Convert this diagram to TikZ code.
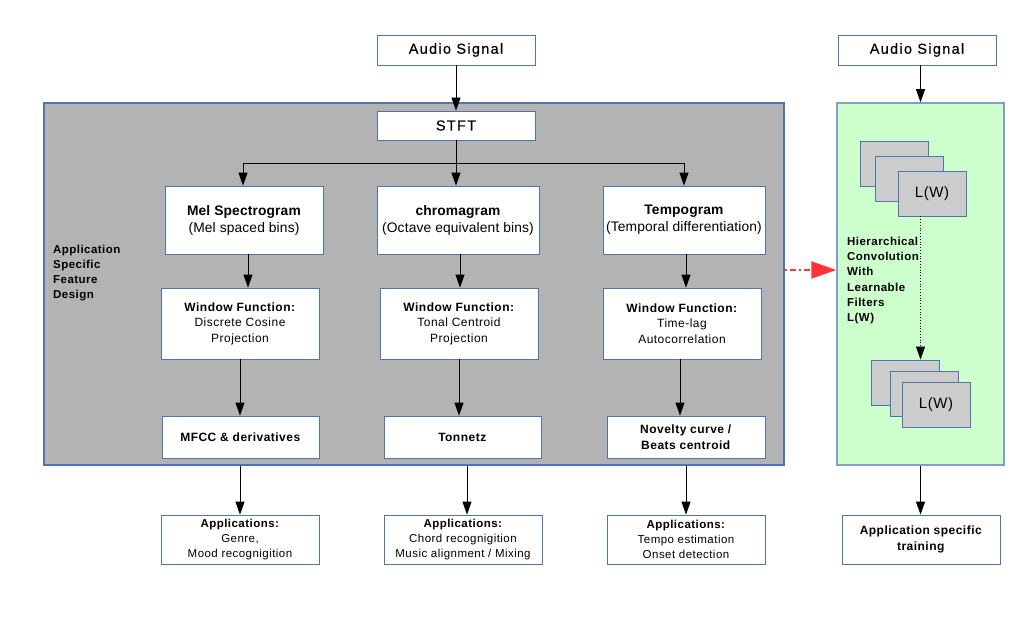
\documentclass[tikz,border=0pt]{standalone}
\usepackage{fontspec}
\setmainfont{Liberation Sans}[LetterSpace=4]
\newfontfamily\tightfont{Liberation Sans}[LetterSpace=1]
\newfontfamily\widefont{Liberation Sans}[LetterSpace=9,FakeBold=0.5]
\usetikzlibrary{arrows.meta}
\definecolor{bordc}{RGB}{79,117,176}
\definecolor{grayfill}{RGB}{179,179,179}
\definecolor{greenfill}{RGB}{204,255,204}
\definecolor{stackfill}{RGB}{204,204,204}
\definecolor{redarr}{RGB}{255,51,51}
\begin{document}
\begin{tikzpicture}[x=1pt,y=-1pt,
  box/.style={draw=bordc, fill=white, line width=0.8pt, align=center, inner sep=0pt},
  fw/.style={font=\fontsize{14.5}{17}\widefont},
  fa/.style={font=\fontsize{13.8}{17}\tightfont},
  fb/.style={font=\fontsize{12}{15.5}\selectfont},
  fc/.style={font=\fontsize{11.5}{15}\selectfont},
  stk/.style={draw=bordc, fill=stackfill, line width=0.9pt, minimum width=68, minimum height=45, inner sep=0pt, font=\fontsize{15}{17}\selectfont},
  arr/.style={-{Triangle[length=13pt,width=9pt]}, line width=0.8pt, black},
  lbl/.style={align=left, inner sep=0pt, font=\fontsize{11.5}{15.2}\selectfont\bfseries}
]
\useasboundingbox (0,0) rectangle (1028,623);
% containers
\node[draw=bordc, fill=grayfill, line width=1.5pt, minimum width=740, minimum height=362, inner sep=0pt] (gray) at (414,284) {};
\node[draw=bordc!70, fill=greenfill, line width=1.5pt, minimum width=167, minimum height=362, inner sep=0pt] (green) at (920.5,284) {};
% left column
\node[box, fw, minimum width=158, minimum height=30] (as1) at (456,50) {Audio Signal};
\node[box, fw, minimum width=158, minimum height=29] (stft) at (456,125.5) {STFT};
\node[box, fa, minimum width=158, minimum height=68] (mel) at (244,220) {\textbf{Mel Spectrogram}\\(Mel spaced bins)};
\node[box, fa, minimum width=162, minimum height=68] (chroma) at (458,220) {\textbf{chromagram}\\(Octave equivalent bins)};
\node[box, fa, minimum width=162, minimum height=68] (tempo) at (684,220) {\textbf{Tempogram}\\(Temporal differentiation)};
\node[box, fb, minimum width=158, minimum height=71] (win1) at (240,323.5) {\textbf{Window Function:}\\Discrete Cosine\\Projection};
\node[box, fb, minimum width=158, minimum height=71] (win2) at (459,323.5) {\textbf{Window Function:}\\Tonal Centroid\\Projection};
\node[box, fb, minimum width=158, minimum height=71] (win3) at (682,323.5) {\textbf{Window Function:}\\Time-lag\\Autocorrelation};
\node[box, fb, minimum width=157, minimum height=42] (mfcc) at (240.5,437) {\textbf{MFCC \& derivatives}};
\node[box, fb, minimum width=157, minimum height=42] (tonn) at (462.5,437) {\textbf{Tonnetz}};
\node[box, fb, minimum width=158, minimum height=42] (nov) at (686,437) {\textbf{Novelty curve /}\\\textbf{Beats centroid}};
\node[box, fc, minimum width=158, minimum height=49] (app1) at (240,539.5) {\textbf{Applications:}\\Genre,\\Mood recognigition};
\node[box, fc, minimum width=158, minimum height=49] (app2) at (463,539.5) {\textbf{Applications:}\\Chord recognigition\\Music alignment / Mixing};
\node[box, fc, minimum width=158, minimum height=49] (app3) at (686,539.5) {\textbf{Applications:}\\Tempo estimation\\Onset detection};
\node[lbl, anchor=west] (asfd) at (53,273) {Application\\Specific\\Feature\\Design};
% right column
\node[box, fw, minimum width=158, minimum height=30] (as2) at (917,50) {Audio Signal};
\node[stk] (s1) at (894,163.5) {};
\node[stk] (s2) at (909,178.5) {};
\node[stk] (s3) at (932,193.5) {L(W)};
\node[stk] (t1) at (905,382.5) {};
\node[stk] (t2) at (924,393.5) {};
\node[stk] (t3) at (936,404.5) {L(W)};
\node[lbl, anchor=west] (hier) at (847,280.5) {Hierarchical\\Convolution\\With\\Learnable\\Filters\\L(W)};
\node[box, fb, minimum width=158, minimum height=49] (train) at (921,539.5) {\textbf{Application specific}\\\textbf{training}};
% connectors
\coordinate (br) at (456,163);
\draw[arr] (as1) -- (stft);
\draw[line width=0.8pt] (stft.south) -- (br);
\draw[arr] (br) -| ([xshift=-1pt]mel.north);
\draw[arr] (br) -- (br |- chroma.north);
\draw[arr] (br) -| (tempo.north);
\draw[arr] ([xshift=4pt]mel.south) -- ([xshift=4pt]mel.south |- win1.north);
\draw[arr] ([xshift=2pt]chroma.south) -- ([xshift=2pt]chroma.south |- win2.north);
\draw[arr] ([xshift=2pt]tempo.south) -- ([xshift=2pt]tempo.south |- win3.north);
\draw[arr] (win1.south) -- (win1.south |- mfcc.north);
\draw[arr] (win2.south) -- (win2.south |- tonn.north);
\draw[arr] ([xshift=-2pt]win3.south) -- ([xshift=-2pt]win3.south |- nov.north);
\draw[arr] (app1.north |- gray.south) -- (app1.north);
\draw[arr] ([xshift=4pt]app2.north |- gray.south) -- ([xshift=4pt]app2.north);
\draw[arr] (app3.north |- gray.south) -- (app3.north);
\draw[arr] (as2.south -| green.north) -- (green.north);
\draw[arr, dotted] (s3.south -| green.north) -- (t1.north -| green.north);
\draw[arr] (green.south) -- (green.south |- train.north);
\draw[redarr, line width=2pt, dash pattern=on 2pt off 3pt on 6pt off 3pt, -{Triangle[length=25pt,width=17pt]}] ([yshift=14pt]gray.east) -- ([yshift=14pt]green.west);
\end{tikzpicture}
\end{document}
